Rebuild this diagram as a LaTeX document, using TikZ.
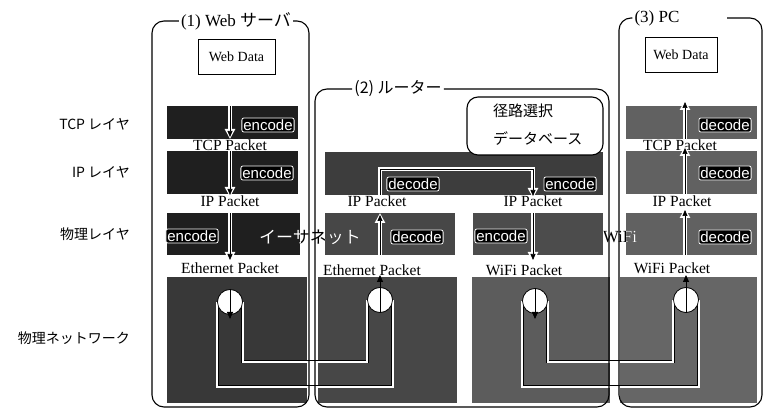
\documentclass[tikz,border=0pt]{standalone}
\usepackage{fontspec}
\setmainfont{Liberation Serif}
\newfontfamily\jpfont{Noto Sans CJK JP}
\newfontfamily\lbsans{Liberation Sans}
\usetikzlibrary{arrows.meta}
\newcommand\hollowarrow[2]{%
  \draw[harrw] (#1) -- (#2);
  \draw[harrb] (#1) -- (#2);}
\begin{document}
\begin{tikzpicture}[x=1pt,y=-1pt,
  blk/.style={draw=none, inner sep=0pt, outer sep=0pt, anchor=north west},
  cont/.style={draw=black, line width=1.1pt, rounded corners=12pt},
  title/.style={inner sep=2pt, font=\fontsize{17}{19}\selectfont},
  wdata/.style={draw=black, line width=0.9pt, fill=white, inner sep=0pt, minimum height=35pt, font=\fontsize{14}{16}\selectfont},
  layer/.style={anchor=east, inner sep=0pt, font=\jpfont\fontsize{14}{16}\selectfont},
  pkt/.style={inner sep=0pt, font=\fontsize{15.5}{17}\selectfont},
  lab/.style={fill=black, draw=white, text=white, line width=0.8pt, rounded corners=2pt, inner sep=1.5pt, font=\lbsans\fontsize{15}{16}\selectfont},
  harrw/.style={draw=white, line width=3.2pt, -{Triangle[length=10pt,width=10pt]}},
  harrb/.style={draw=black, line width=0.7pt, shorten >=2pt, -{Triangle[length=6pt,width=5pt]}},
  pipe/.style={draw=black, line width=0.5pt, double=white, double distance=2pt},
  port/.style={circle, draw=black, fill=white, line width=0.7pt, minimum size=25pt, inner sep=0pt},
  carr/.style={draw=black, line width=0.8pt, -{Triangle[length=7pt,width=6pt]}},
  xtext/.style={inner sep=0pt, font=\jpfont\fontsize{17}{19}\selectfont},
  wtext/.style={inner sep=0pt, font=\fontsize{17}{19}\selectfont},
  dbtext/.style={anchor=west, inner sep=0pt, font=\jpfont\fontsize{15}{17}\selectfont}
]
\useasboundingbox (0,0) rectangle (766,411);
\fill[white] (0,0) rectangle (766,411);

% ---------- blocks ----------
\node[blk, fill=black!88, minimum width=131pt, minimum height=33pt] (tcp1) at (167,106) {};
\node[blk, fill=black!88, minimum width=131pt, minimum height=43pt] (ip1) at (167,151) {};
\node[blk, fill=black!88, minimum width=133pt, minimum height=42pt] (ph1) at (167,213) {};
\node[blk, fill=black!78, minimum width=140pt, minimum height=126pt] (nw1) at (167,277) {};

\node[blk, fill=black!76, minimum width=278pt, minimum height=43pt] (ipr) at (325,152) {};
\node[blk, fill=black!72, minimum width=130pt, minimum height=42pt] (phe) at (325,213) {};
\node[blk, fill=black!70, minimum width=130pt, minimum height=42pt] (phw) at (473,213) {};
\node[blk, fill=black!72, minimum width=139pt, minimum height=126pt] (nwe) at (318,277) {};
\node[blk, fill=black!64, minimum width=138pt, minimum height=126pt] (nww) at (472,277) {};

\node[blk, fill=black!62, minimum width=131pt, minimum height=33pt] (tcp3) at (626,106) {};
\node[blk, fill=black!62, minimum width=131pt, minimum height=43pt] (ip3) at (626,151) {};
\node[blk, fill=black!62, minimum width=131pt, minimum height=42pt] (ph3) at (626,213) {};
\node[blk, fill=black!60, minimum width=137pt, minimum height=126pt] (nw3) at (620,277) {};

% ---------- Web Data ----------
\node[wdata, minimum width=77pt] (wd1) at (236.5,57) {Web Data};
\node[wdata, minimum width=72pt] (wd3) at (681,55) {Web Data};

% ---------- layer labels ----------
\node[layer] (l1) at (130,124) {TCP レイヤ};
\node[layer] (l2) at (130,172) {IP レイヤ};
\node[layer] (l3) at (130,234) {物理レイヤ};
\node[layer] (l4) at (130,338) {物理ネットワーク};

% ---------- packet labels ----------
\node[pkt] (p1) at (230,145) {TCP Packet};
\node[pkt] (p2) at (230,201) {IP Packet};
\node[pkt] (p3) at (230,268) {Ethernet Packet};
\node[pkt] (p4) at (377,201) {IP Packet};
\node[pkt] (p5) at (533,201) {IP Packet};
\node[pkt] (p6) at (372,270) {Ethernet Packet};
\node[pkt] (p7) at (524,270) {WiFi Packet};
\node[pkt] (p8) at (680,145) {TCP Packet};
\node[pkt] (p9) at (682,201) {IP Packet};
\node[pkt] (p10) at (672,268) {WiFi Packet};

% ---------- network pipes ----------
\coordinate (outY) at (0,387);
\coordinate (inY) at (0,362);
\node[port] (cn1) at (230,302) {};
\node[port] (cne) at (380,300) {};
\node[port] (cnw) at (535,301) {};
\node[port] (cn3) at (686,300) {};
\draw[pipe] (cn1.west) -- (cn1.west |- outY) -- (cne.east |- outY) -- (cne.east);
\draw[pipe] (cn1.east) -- (cn1.east |- inY) -- (cne.west |- inY) -- (cne.west);
\draw[pipe] (cnw.west) -- (cnw.west |- outY) -- (cn3.east |- outY) -- (cn3.east);
\draw[pipe] (cnw.east) -- (cnw.east |- inY) -- (cn3.west |- inY) -- (cn3.west);
\node[port] at (cn1) {};
\node[port] at (cne) {};
\node[port] at (cnw) {};
\node[port] at (cn3) {};
\coordinate (k1a) at (230,289); \coordinate (k1b) at (230,319);
\coordinate (kea) at (380,313); \coordinate (keb) at (380,275);
\coordinate (kwa) at (535,288); \coordinate (kwb) at (535,319);
\coordinate (k3a) at (686,313); \coordinate (k3b) at (686,275);
\draw[carr] (k1a) -- (k1b);
\draw[carr] (kea) -- (keb);
\draw[carr] (kwa) -- (kwb);
\draw[carr] (k3a) -- (k3b);

% ---------- block arrows ----------
\coordinate (a1) at (230,106); \coordinate (a2) at (230,139);
\coordinate (a3) at (230,151); \coordinate (a4) at (230,197);
\coordinate (a5) at (230,213); \coordinate (a6) at (230,262);
\hollowarrow{a1}{a2}
\hollowarrow{a3}{a4}
\hollowarrow{a5}{a6}
\coordinate (b1) at (685,139); \coordinate (b2) at (685,100);
\coordinate (b3) at (685,194); \coordinate (b4) at (685,146);
\coordinate (b5) at (685,255); \coordinate (b6) at (685,208);
\hollowarrow{b1}{b2}
\hollowarrow{b3}{b4}
\hollowarrow{b5}{b6}
\coordinate (r1) at (380,255); \coordinate (r2) at (380,213);
\hollowarrow{r1}{r2}
\coordinate (r3) at (380,195); \coordinate (r4) at (380,169);
\coordinate (r5) at (533,169); \coordinate (r6) at (533,198);
\draw[harrw] (r3) -- (r4) -- (r5) -- (r6);
\draw[harrb] (r3) -- (r4) -- (r5) -- (r6);
\coordinate (r7) at (533,213); \coordinate (r8) at (533,262);
\hollowarrow{r7}{r8}

% ---------- encode / decode ----------
\node[lab] (e1) at (268,125) {encode};
\node[lab] (e2) at (267,173) {encode};
\node[lab] (e3) at (192,236) {encode};
\node[lab] (d4) at (417,237) {decode};
\node[lab] (d5) at (413,184) {decode};
\node[lab] (e6) at (570,184) {encode};
\node[lab] (e7) at (501,236) {encode};
\node[lab] (d8) at (725,125) {decode};
\node[lab] (d9) at (725,173) {decode};
\node[lab] (d10) at (725,237) {decode};

% ---------- link names (inverted over the blocks) ----------
\node[xtext, text=black] (eth) at (310,237) {イーサネット};
\node[wtext, text=black] (wifi) at (620,237) {WiFi};
\begin{scope}
  \clip (ph1.north west) rectangle (ph1.south east)
        (phe.north west) rectangle (phe.south east)
        (phw.north west) rectangle (phw.south east)
        (ph3.north west) rectangle (ph3.south east);
  \node[xtext, text=white] (ethw) at (310,237) {イーサネット};
  \node[wtext, text=white] (wifiw) at (620,237) {WiFi};
\end{scope}

% ---------- route database ----------
\node[draw=black, fill=white, line width=1.1pt, rounded corners=11pt, minimum width=136pt, minimum height=58pt, inner sep=0pt] (db) at (535,126) {};
\node[dbtext] (db1) at (493,111) {径路選択};
\node[dbtext] (db2) at (493,139) {データベース};

% ---------- containers ----------
\node[title] (t1) at (236,21) {(1) Web {\jpfont サーバ}};
\draw[cont] (t1.west) -- (152,21) -- (152,407) -- (309,407) -- (309,21) -- (t1.east);
\node[title, font=\jpfont\fontsize{16}{18}\selectfont] (t2) at (398,89) {(2) ルーター};
\draw[cont] (t2.west) -- (315,89) -- (315,407) -- (609,407) -- (609,89) -- (t2.east);
\node[title] (t3) at (657,18) {(3) PC};
\coordinate (c3end) at (727,18);
\draw[cont] (t3.west) -- (619,18) -- (619,407) -- (762,407) -- (762,18) -- (c3end);
\end{tikzpicture}
\end{document}
